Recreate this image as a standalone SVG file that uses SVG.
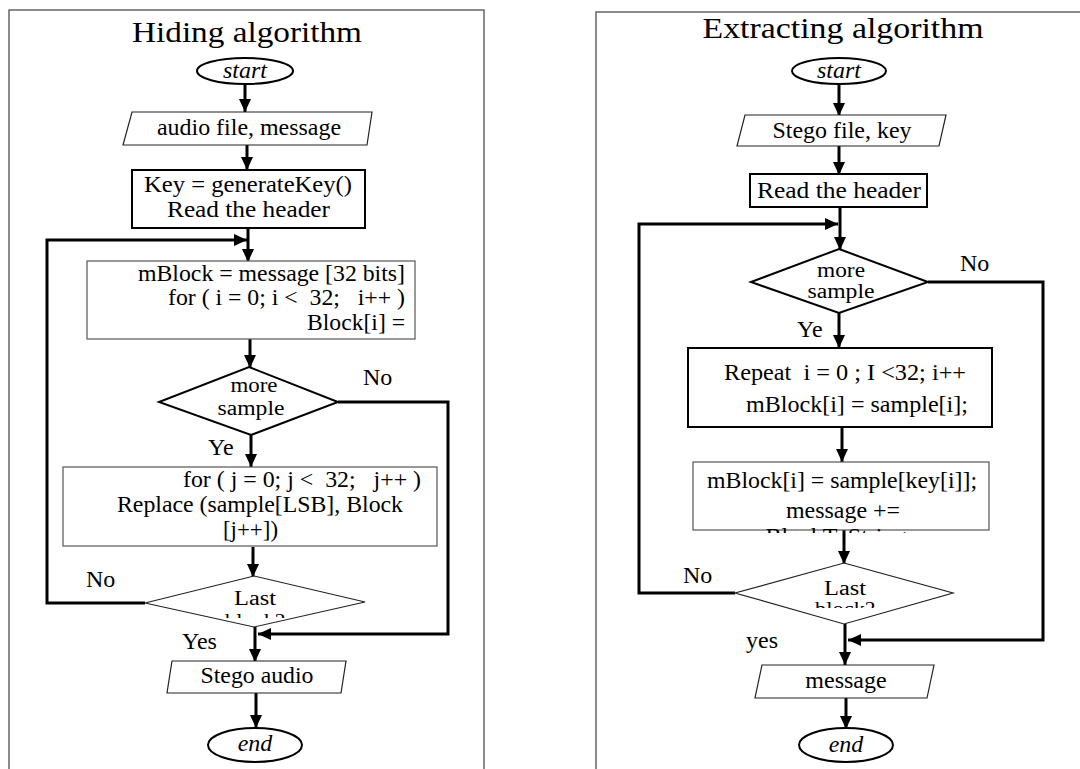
<svg xmlns="http://www.w3.org/2000/svg" width="1080" height="769" viewBox="0 0 1080 769">
  <style>
    text { font-family: "Liberation Serif", "Times New Roman", serif; font-size: 24px; fill: #000; }
    .title { font-size: 29px; }
    .it { font-style: italic; }
    .mid { text-anchor: middle; }
    .end { text-anchor: end; }
    .dec { font-size: 20px; }
    .panel { fill: none; stroke: #666; stroke-width: 1.5; }
    .bold { fill: #fff; stroke: #000; stroke-width: 2; }
    .thin { fill: #fff; stroke: #222; stroke-width: 1.2; }
    .gray { fill: #fff; stroke: #555; stroke-width: 1.2; }
    .flow { fill: none; stroke: #000; stroke-width: 3; marker-end: url(#arrow); }
  </style>
  <defs>
    <marker id="arrow" markerUnits="userSpaceOnUse" markerWidth="14" markerHeight="12" refX="13" refY="6" orient="auto">
      <path d="M0,0 L13,6 L0,12 Z" fill="#000"/>
    </marker>
    <clipPath id="clipLastL"><rect x="140" y="560" width="230" height="58"/></clipPath>
    <clipPath id="clipLastR"><rect x="730" y="550" width="230" height="58"/></clipPath>
    <clipPath id="clipMsgR"><rect x="690" y="460" width="300" height="73"/></clipPath>
  </defs>

  <rect width="1080" height="769" fill="#fff"/>

  <!-- panel frames -->
  <rect class="panel" x="9" y="10" width="475" height="780"/>
  <rect class="panel" x="596" y="12" width="520" height="780"/>

  <text class="title mid" x="247" y="42" textLength="230" lengthAdjust="spacingAndGlyphs">Hiding algorithm</text>
  <text class="title mid" x="843" y="38" textLength="281" lengthAdjust="spacingAndGlyphs">Extracting algorithm</text>

  <!-- connectors -->
  <g id="connectors">
    <!-- hiding -->
    <path class="flow" d="M245,83 V112"/>
    <path class="flow" d="M247,145 V170"/>
    <path class="flow" d="M248,228 V262"/>
    <path class="flow" d="M145,603 H47 V240 H247"/>
    <path class="flow" d="M250,339 V368"/>
    <path class="flow" d="M251,435 V467"/>
    <path class="flow" d="M253,547 V577"/>
    <path class="flow" d="M255,627 V662"/>
    <path class="flow" d="M338,402 H448 V634 H258"/>
    <path class="flow" d="M256,693 V728"/>
    <!-- extracting -->
    <path class="flow" d="M839,84 V116"/>
    <path class="flow" d="M839,146 V175"/>
    <path class="flow" d="M840,207 V250"/>
    <path class="flow" d="M735,593 H639 V224 H838"/>
    <path class="flow" d="M839,313 V348"/>
    <path class="flow" d="M842,427 V462"/>
    <path class="flow" d="M844,530 V564"/>
    <path class="flow" d="M845,624 V665"/>
    <path class="flow" d="M928,282 H1043 V640 H848"/>
    <path class="flow" d="M846,698 V729"/>
  </g>

  <!-- hiding algorithm nodes -->
  <g id="h-start">
    <ellipse class="bold" cx="245" cy="71" rx="48" ry="13"/>
    <text class="it mid" x="245" y="78">start</text>
  </g>
  <g id="h-input">
    <polygon class="thin" points="132,112 372,112 367,145 123,145"/>
    <text class="mid" x="249" y="135" textLength="184" lengthAdjust="spacingAndGlyphs">audio file, message</text>
  </g>
  <g id="h-key">
    <rect class="bold" x="132" y="170" width="233" height="58"/>
    <text x="144" y="192" textLength="208" lengthAdjust="spacingAndGlyphs">Key = generateKey()</text>
    <text x="167" y="217" textLength="163" lengthAdjust="spacingAndGlyphs">Read the header</text>
  </g>
  <g id="h-block">
    <rect class="gray" x="87" y="261" width="328" height="78"/>
    <text class="end" x="405" y="281" textLength="267" lengthAdjust="spacingAndGlyphs">mBlock = message [32 bits]</text>
    <text class="end" x="405" y="305" xml:space="preserve" textLength="237" lengthAdjust="spacingAndGlyphs">for ( i = 0; i &lt;  32;   i++ )</text>
    <text class="end" x="405" y="330" textLength="98" lengthAdjust="spacingAndGlyphs">Block[i] =</text>
  </g>
  <g id="h-more">
    <polygon class="bold" points="249,367 338,402 251,435 159,402"/>
    <text class="dec mid" x="254" y="392" textLength="47" lengthAdjust="spacingAndGlyphs">more</text>
    <text class="dec mid" x="251" y="415" textLength="67" lengthAdjust="spacingAndGlyphs">sample</text>
    <text x="363" y="385">No</text>
    <text x="208" y="455">Ye</text>
  </g>
  <g id="h-replace">
    <rect class="gray" x="63" y="467" width="374" height="79"/>
    <text x="183" y="487" xml:space="preserve" textLength="238" lengthAdjust="spacingAndGlyphs">for ( j = 0; j &lt;  32;   j++ )</text>
    <text x="117" y="512" textLength="286" lengthAdjust="spacingAndGlyphs">Replace (sample[LSB], Block</text>
    <text x="223" y="537" textLength="55" lengthAdjust="spacingAndGlyphs">[j++])</text>
  </g>
  <g id="h-last">
    <polygon class="thin" points="254,576 365,602 254,627 145,603"/>
    <text class="dec mid" x="255" y="605" textLength="42" lengthAdjust="spacingAndGlyphs">Last</text>
    <text class="dec mid" x="255" y="628" textLength="60" lengthAdjust="spacingAndGlyphs" clip-path="url(#clipLastL)">block?</text>
    <text x="86" y="587">No</text>
    <text x="182" y="649">Yes</text>
  </g>
  <g id="h-output">
    <polygon class="thin" points="172,661 346,661 341,693 167,693"/>
    <text class="mid" x="257" y="683" textLength="113" lengthAdjust="spacingAndGlyphs">Stego audio</text>
  </g>
  <g id="h-end">
    <ellipse class="bold" cx="255" cy="745" rx="47" ry="17"/>
    <text class="it mid" x="255" y="751">end</text>
  </g>

  <!-- extracting algorithm nodes -->
  <g id="e-start">
    <ellipse class="bold" cx="839" cy="71" rx="47" ry="13"/>
    <text class="it mid" x="839" y="78">start</text>
  </g>
  <g id="e-input">
    <polygon class="thin" points="745,115 946,115 939,146 737,146"/>
    <text class="mid" x="842" y="138" textLength="139" lengthAdjust="spacingAndGlyphs">Stego file, key</text>
  </g>
  <g id="e-header">
    <rect class="bold" x="750" y="174" width="177" height="33"/>
    <text x="757" y="198" textLength="164" lengthAdjust="spacingAndGlyphs">Read the header</text>
  </g>
  <g id="e-more">
    <polygon class="bold" points="839,249 928,282 839,313 751,282"/>
    <text class="dec mid" x="841" y="277" textLength="48" lengthAdjust="spacingAndGlyphs">more</text>
    <text class="dec mid" x="841" y="298" textLength="67" lengthAdjust="spacingAndGlyphs">sample</text>
    <text x="960" y="271">No</text>
    <text x="797" y="337">Ye</text>
  </g>
  <g id="e-repeat">
    <rect class="bold" x="688" y="348" width="304" height="79"/>
    <text x="724" y="380" xml:space="preserve" textLength="242" lengthAdjust="spacingAndGlyphs">Repeat  i = 0 ; I &lt;32; i++</text>
    <text x="746" y="412" textLength="222" lengthAdjust="spacingAndGlyphs">mBlock[i] = sample[i];</text>
  </g>
  <g id="e-collect">
    <rect class="gray" x="693" y="462" width="296" height="68"/>
    <text x="707" y="488" textLength="270" lengthAdjust="spacingAndGlyphs">mBlock[i] = sample[key[i]];</text>
    <text x="786" y="518" textLength="114" lengthAdjust="spacingAndGlyphs">message +=</text>
    <text class="mid" x="836" y="544" clip-path="url(#clipMsgR)">BlockToString</text>
  </g>
  <g id="e-last">
    <polygon class="thin" points="844,563 953,593 844,624 735,593"/>
    <text class="dec mid" x="845" y="595" textLength="42" lengthAdjust="spacingAndGlyphs">Last</text>
    <text class="dec mid" x="845" y="616" textLength="60" lengthAdjust="spacingAndGlyphs" clip-path="url(#clipLastR)">block?</text>
    <text x="683" y="583">No</text>
    <text x="746" y="648">yes</text>
  </g>
  <g id="e-output">
    <polygon class="thin" points="762,665 934,665 927,698 755,698"/>
    <text class="mid" x="846" y="688">message</text>
  </g>
  <g id="e-end">
    <ellipse class="bold" cx="846" cy="745" rx="47" ry="17"/>
    <text class="it mid" x="846" y="752">end</text>
  </g>
</svg>
